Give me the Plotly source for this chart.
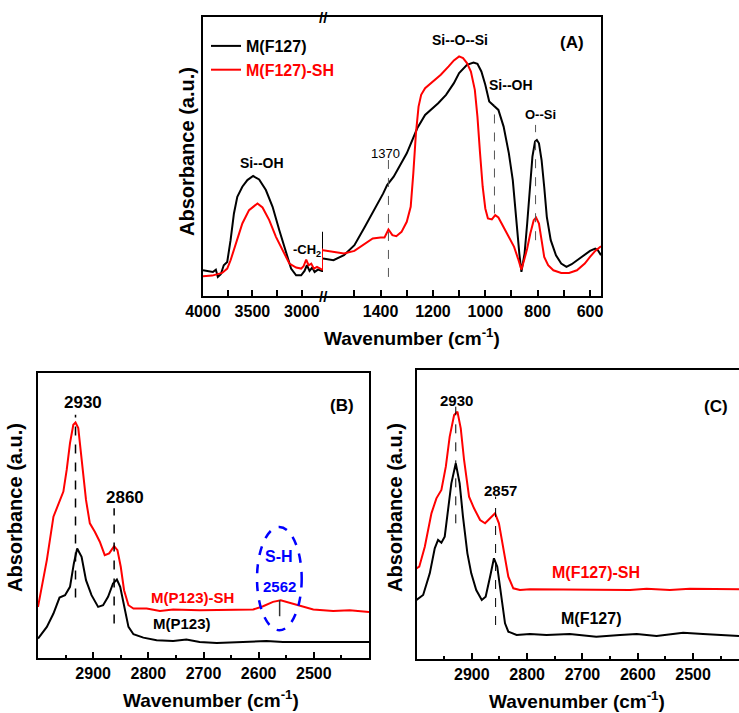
import plotly.graph_objects as go

# ---------------- DATA ----------------
# Panel A, left part of the broken axis (4000 -> ~2786 cm-1)
A_left_wn = [4000, 3950, 3900, 3870, 3850, 3820, 3790, 3755, 3721, 3687, 3653, 3602, 3551,
             3493, 3432, 3364, 3296, 3228, 3160, 3109, 3058, 3007, 2973, 2949, 2922, 2895,
             2871, 2837, 2796, 2786, 2786]
A_left_black = [77, 75, 72, 79, 57, 65, 92, 102, 167, 247, 297, 327, 347,
                359, 349, 317, 267, 197, 127, 82, 62, 62, 75, 92, 75, 85,
                72, 79, 75, 75, 192]
A_left_red_wn = [4000, 3908, 3806, 3755, 3721, 3670, 3602, 3534, 3449, 3398, 3330, 3262, 3194,
                 3126, 3058, 3007, 2983, 2956, 2932, 2905, 2878, 2847, 2796, 2786, 2786]
A_left_red = [59, 61, 69, 82, 107, 157, 217, 257, 277, 265, 227, 177, 137,
              97, 85, 82, 89, 109, 92, 97, 82, 87, 79, 79, 142]

# Panel A, right part of the broken axis (~1620 -> 558 cm-1)
A_right_black_wn = [1620, 1580, 1540, 1500, 1460, 1420, 1390, 1375, 1350, 1300, 1260, 1230, 1200,
                    1180, 1150, 1120, 1100, 1070, 1045, 1030, 1015, 1000, 985, 965, 950, 930,
                    910, 895, 880, 870, 862, 850, 840, 830, 820, 810, 803, 795, 785, 775, 765,
                    750, 730, 710, 690, 670, 650, 625, 600, 580, 570, 558]
A_right_black = [112, 107, 122, 152, 207, 262, 307, 332, 357, 427, 502, 542, 562,
                 577, 602, 637, 667, 692, 699, 695, 672, 632, 582, 569, 557, 507,
                 427, 347, 207, 127, 72, 127, 217, 327, 417, 462, 467, 457, 407, 327, 237,
                 167, 122, 97, 87, 95, 107, 122, 135, 142, 137, 122]
A_right_red_wn = [1620, 1580, 1540, 1500, 1460, 1430, 1400, 1385, 1370, 1355, 1340, 1320, 1300,
                  1285, 1275, 1265, 1255, 1245, 1230, 1200, 1170, 1140, 1120, 1100, 1085, 1070,
                  1055, 1040, 1030, 1020, 1010, 1000, 990, 975, 962, 950, 930, 910, 890, 875,
                  862, 850, 840, 828, 815, 806, 795, 785, 775, 760, 740, 710, 680, 650, 620,
                  600, 580, 558]
A_right_red = [137, 132, 127, 135, 157, 172, 175, 175, 199, 182, 179, 192, 222,
               267, 367, 487, 567, 602, 622, 642, 662, 687, 705, 717, 712, 697,
               672, 617, 537, 427, 327, 262, 232, 229, 242, 235, 207, 177, 147, 112,
               79, 112, 142, 187, 227, 235, 217, 167, 117, 92, 77, 69, 69, 77, 97,
               117, 135, 149]

# Panel B: M(P123) and M(P123)-SH, 3000 -> 2400 cm-1
B_black_wn = [3000, 2984, 2972, 2961, 2951, 2942, 2935, 2929, 2921, 2913, 2903, 2891, 2882,
              2873, 2864, 2857, 2851, 2844, 2836, 2827, 2809, 2785, 2755, 2731, 2707, 2676,
              2646, 2616, 2586, 2556, 2525, 2489, 2453, 2429, 2400]
B_black = [58, 93, 133, 181, 188, 213, 283, 328, 303, 233, 188, 153, 158,
           183, 223, 235, 213, 153, 93, 71, 61, 53, 51, 55, 48, 45,
           47, 50, 51, 48, 48, 48, 50, 48, 48]
B_red_wn = [3000, 2993, 2984, 2972, 2963, 2954, 2948, 2942, 2936, 2932, 2927, 2921, 2913,
            2906, 2897, 2888, 2879, 2871, 2862, 2856, 2850, 2844, 2836, 2827, 2803, 2779,
            2755, 2707, 2646, 2610, 2592, 2574, 2560, 2543, 2525, 2501, 2465, 2435, 2400]
B_red = [153, 213, 293, 423, 463, 498, 563, 643, 698, 705, 688, 603, 473,
         403, 378, 348, 308, 313, 335, 323, 273, 203, 158, 148, 148, 141,
         145, 143, 143, 145, 155, 168, 173, 165, 155, 145, 141, 143, 138]

# Panel C: M(F127) and M(F127)-SH, 3000 -> ~2417 cm-1
C_black_wn = [3000, 2988, 2976, 2967, 2961, 2955, 2949, 2943, 2937, 2929, 2922, 2916, 2908,
              2901, 2892, 2882, 2875, 2867, 2860, 2854, 2846, 2840, 2834, 2819, 2795, 2765,
              2723, 2675, 2632, 2602, 2566, 2518, 2482, 2445, 2417]
C_black = [177, 192, 257, 332, 357, 349, 367, 447, 527, 587, 527, 427, 317,
           257, 207, 177, 187, 247, 302, 277, 177, 107, 82, 72, 75, 72,
           75, 67, 72, 75, 69, 79, 75, 72, 69]
C_red_wn = [3000, 2995, 2985, 2973, 2964, 2955, 2947, 2940, 2932, 2926, 2920, 2914, 2905,
            2896, 2885, 2876, 2867, 2858, 2851, 2843, 2834, 2825, 2813, 2795, 2753, 2711,
            2662, 2614, 2584, 2542, 2506, 2464, 2417]
C_red = [272, 277, 337, 437, 482, 507, 577, 667, 732, 742, 692, 597, 487,
         452, 417, 407, 422, 437, 407, 327, 247, 212, 207, 209, 209, 207,
         209, 207, 211, 207, 211, 209, 209]

# Peak marker positions (wavenumber, y from, y to)
A_marks = [(1370, 57, 407), (965, 247, 572), (808, 167, 512)]
B_marks = [(2932, 181, 728), (2862, 103, 448)]
C_marks = [(2929, 407, 757), (2857, 102, 487)]
SH_peak = (2562, 125, 173)

# Tick labels
A_left_ticks = [4000, 3500, 3000]
A_right_ticks = [1400, 1200, 1000, 800, 600]
A_right_minor = [1500, 1300, 1100, 900, 700]
BC_ticks = [2900, 2800, 2700, 2600, 2500]

# ---------------- LAYOUT HELPERS ----------------
W, H = 739, 713
FONT = "Arial, Liberation Sans, sans-serif"
RED = "#ff0000"
BLUE = "#0000ff"


def fx(p):
    return p / W


def fy(p):
    return 1 - p / H


fig = go.Figure()

# Panel A traces (left segment on x/y, right segment on x2/y2; y2 matches y)
fig.add_trace(go.Scatter(x=A_left_wn, y=A_left_black, mode="lines", name="M(F127)",
                         line=dict(color="black", width=2), xaxis="x", yaxis="y",
                         legendgroup="k"))
fig.add_trace(go.Scatter(x=A_right_black_wn, y=A_right_black, mode="lines", showlegend=False,
                         line=dict(color="black", width=2), xaxis="x2", yaxis="y2",
                         legendgroup="k"))
fig.add_trace(go.Scatter(x=A_left_red_wn, y=A_left_red, mode="lines",
                         name="<span style='color:#ff0000'>M(F127)-SH</span>",
                         line=dict(color=RED, width=2), xaxis="x", yaxis="y",
                         legendgroup="r"))
fig.add_trace(go.Scatter(x=A_right_red_wn, y=A_right_red, mode="lines", showlegend=False,
                         line=dict(color=RED, width=2), xaxis="x2", yaxis="y2",
                         legendgroup="r"))

# Panel B traces
fig.add_trace(go.Scatter(x=B_black_wn, y=B_black, mode="lines", showlegend=False,
                         line=dict(color="black", width=2), xaxis="x3", yaxis="y3"))
fig.add_trace(go.Scatter(x=B_red_wn, y=B_red, mode="lines", showlegend=False,
                         line=dict(color=RED, width=2), xaxis="x3", yaxis="y3"))

# Panel C traces
fig.add_trace(go.Scatter(x=C_black_wn, y=C_black, mode="lines", showlegend=False,
                         line=dict(color="black", width=2), xaxis="x4", yaxis="y4"))
fig.add_trace(go.Scatter(x=C_red_wn, y=C_red, mode="lines", showlegend=False,
                         line=dict(color=RED, width=2), xaxis="x4", yaxis="y4"))

axis_common = dict(showline=True, linecolor="black", linewidth=2, showgrid=False,
                   zeroline=False, ticks="inside", tickcolor="black", tickwidth=1.5,
                   ticklen=6, automargin=False,
                   tickfont=dict(family=FONT, size=16, color="black", weight="bold"))
y_common = dict(showline=True, linecolor="black", linewidth=2, showgrid=False,
                zeroline=False, ticks="", showticklabels=False, automargin=False)

fig.update_layout(
    width=W, height=H,
    margin=dict(l=0, r=0, t=0, b=0, pad=0, autoexpand=False),
    paper_bgcolor="white", plot_bgcolor="white",
    font=dict(family=FONT, color="black"),
    xaxis=dict(axis_common, domain=[fx(203), fx(323)], range=[4000, 2786],
               tickvals=A_left_ticks, mirror=True, anchor="y",
               minor=dict(ticks="inside", dtick=250, tick0=0, ticklen=6,
                          tickcolor="black", tickwidth=1.5)),
    xaxis2=dict(axis_common, domain=[fx(323), fx(601)], range=[1620, 558],
                tickvals=A_right_ticks, mirror=True, anchor="y2",
                minor=dict(ticks="inside", tickvals=A_right_minor, ticklen=6,
                           tickcolor="black", tickwidth=1.5)),
    yaxis=dict(y_common, domain=[fy(296), fy(17)], range=[0, 835], anchor="x"),
    yaxis2=dict(y_common, domain=[fy(296), fy(17)], range=[0, 835], anchor="x2",
                side="right", matches="y"),
    xaxis3=dict(axis_common, domain=[fx(38), fx(369)], range=[3000, 2400],
                tickvals=BC_ticks, mirror=True, anchor="y3",
                minor=dict(ticks="inside", dtick=50, tick0=0, ticklen=3,
                           tickcolor="black", tickwidth=1.5)),
    yaxis3=dict(y_common, domain=[fy(658), fy(373)], range=[0, 853], anchor="x3",
                mirror=True),
    xaxis4=dict(axis_common, domain=[fx(416.5), 1.0], range=[3000, 2417],
                tickvals=BC_ticks, mirror=True, anchor="y4",
                minor=dict(ticks="inside", dtick=50, tick0=0, ticklen=3,
                           tickcolor="black", tickwidth=1.5)),
    yaxis4=dict(y_common, domain=[fy(659), fy(370)], range=[0, 867], anchor="x4"),
    legend=dict(x=fx(206), y=fy(29), xanchor="left", yanchor="top",
                bgcolor="rgba(0,0,0,0)", itemwidth=30, tracegroupgap=0,
                font=dict(family=FONT, size=16, color="black", weight="bold")),
)

# Peak marker lines
shapes = []
for wn, y0, y1 in A_marks:
    shapes.append(dict(type="line", xref="x2", yref="y2", x0=wn, x1=wn, y0=y0, y1=y1,
                       line=dict(color="#555555", width=1, dash="dash")))
for wn, y0, y1 in B_marks:
    shapes.append(dict(type="line", xref="x3", yref="y3", x0=wn, x1=wn, y0=y0, y1=y1,
                       line=dict(color="black", width=1.5, dash="dash")))
for wn, y0, y1 in C_marks:
    shapes.append(dict(type="line", xref="x4", yref="y4", x0=wn, x1=wn, y0=y0, y1=y1,
                       line=dict(color="black", width=1, dash="dash")))
shapes.append(dict(type="line", xref="x3", yref="y3", x0=SH_peak[0], x1=SH_peak[0],
                   y0=SH_peak[1], y1=SH_peak[2], line=dict(color="#333333", width=1.5)))
shapes.append(dict(type="circle", xref="x3", yref="y3", x0=2603, x1=2522, y0=83, y1=392,
                   line=dict(color=BLUE, width=2.5, dash="dash")))
fig.update_layout(shapes=shapes)


def ann(text, x, y, size=14, color="black", bold=True, angle=0):
    return dict(text=text, x=fx(x), y=fy(y), xref="paper", yref="paper",
                xanchor="center", yanchor="middle", showarrow=False, textangle=angle,
                font=dict(family=FONT, size=size, color=color,
                          weight="bold" if bold else "normal"))


annotations = [
    # Panel A
    ann("Si--O--Si", 460, 40, 14),
    ann("(A)", 572, 43, 17),
    ann("Si--OH", 511, 85, 14),
    ann("O--Si", 540, 114, 13),
    ann("1370", 385, 153, 13, bold=False),
    ann("Si--OH", 262, 163, 14),
    ann("-CH<sub>2</sub>", 307, 250, 13),
    ann("//", 323, 17, 15),
    ann("//", 323, 296, 15),
    ann("Wavenumber (cm<sup>-1</sup>)", 412, 337, 19),
    ann("Absorbance (a.u.)", 187, 152, 20, angle=-90),
    # Panel B
    ann("2930", 83, 403, 17),
    ann("2860", 125, 497, 17),
    ann("(B)", 342, 405, 17),
    ann("M(P123)-SH", 192, 597, 15, color=RED),
    ann("M(P123)", 182, 623, 15),
    ann("S-H", 279, 556, 16, color=BLUE),
    ann("2562", 279, 586, 15, color=BLUE),
    ann("Wavenumber (cm<sup>-1</sup>)", 211, 699, 19),
    ann("Absorbance (a.u.)", 15, 508, 20, angle=-90),
    # Panel C
    ann("2930", 456, 400, 15),
    ann("2857", 500, 491, 15),
    ann("(C)", 716, 406, 17),
    ann("M(F127)-SH", 596, 572, 16, color=RED),
    ann("M(F127)", 591, 618, 16),
    ann("Wavenumber (cm<sup>-1</sup>)", 577, 700, 19),
    ann("Absorbance (a.u.)", 395, 508, 20, angle=-90),
]
fig.update_layout(annotations=annotations)

fig.write_html("out.html", config={"displayModeBar": False},
               post_script="document.body.style.margin='0';")
